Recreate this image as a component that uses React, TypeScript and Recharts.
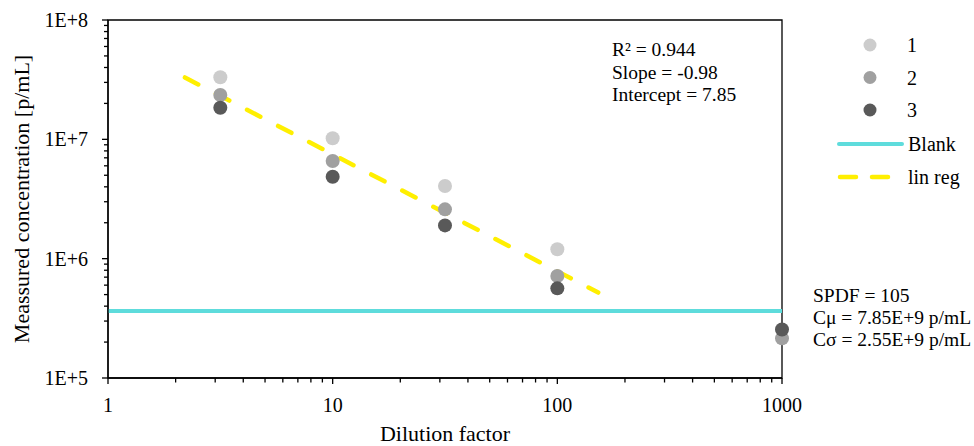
import React from 'react';
import { ScatterChart, Scatter, XAxis, YAxis, ReferenceLine, ReferenceArea } from 'recharts';

// ---- data ----
const dilution = [3.162, 10, 31.62, 100, 1000];
const series1 = [3.31e7, 1.02e7, 4.06e6, 1.2e6, null];
const series2 = [2.35e7, 6.58e6, 2.59e6, 7.15e5, 2.15e5];
const series3 = [1.84e7, 4.86e6, 1.9e6, 5.64e5, 2.55e5];
const blankLevel = 3.64e5;
const regX = [2.2, 152];
const regY = [3.3e7, 5.2e5];

const xMajor = [1, 10, 100, 1000];
const xTickLabels = ['1', '10', '100', '1000'];
const xTicks = [1, 2, 3, 4, 5, 6, 7, 8, 9, 10, 20, 30, 40, 50, 60, 70, 80, 90, 100, 200, 300, 400, 500, 600, 700, 800, 900, 1000];
const yMajor = [1e5, 1e6, 1e7, 1e8];
const yTickLabels = ['1E+5', '1E+6', '1E+7', '1E+8'];
const yTicks = [1e5, 2e5, 3e5, 4e5, 5e5, 6e5, 7e5, 8e5, 9e5, 1e6, 2e6, 3e6, 4e6, 5e6, 6e6, 7e6, 8e6, 9e6, 1e7, 2e7, 3e7, 4e7, 5e7, 6e7, 7e7, 8e7, 9e7, 1e8];

const seriesNames = ['1', '2', '3'];
const seriesColors = ['#CCCCCC', '#A0A0A0', '#595959'];
const statsLines = ['R\u00B2 = 0.944', 'Slope = -0.98', 'Intercept = 7.85'];
const spdfLines = ['SPDF = 105', 'C\u03BC = 7.85E+9 p/mL', 'C\u03C3 = 2.55E+9 p/mL'];

const BLANK_COLOR = '#5EDCDC';
const REG_COLOR = '#FFEF00';
const FONT = '"Liberation Serif", "Times New Roman", serif';

const toPoints = (vals: (number | null)[]) =>
  dilution.map((x, i) => ({ x, y: vals[i] })).filter((p) => p.y !== null);

const allSeries = [series1, series2, series3].map(toPoints);
const regData = regX.map((x, i) => ({ x, y: regY[i] }));

const XTick = (props: any) => {
  const { x, y, payload } = props;
  const idx = xMajor.indexOf(payload.value);
  const major = idx >= 0;
  return (
    <g>
      <line x1={x} x2={x} y1={y} y2={y + (major ? 6 : 4.5)} stroke="#000" strokeWidth={1.3} />
      {major && (
        <text x={x} y={y + 34} textAnchor="middle" fontFamily={FONT} fontSize={20} fill="#000">
          {xTickLabels[idx]}
        </text>
      )}
    </g>
  );
};

const YTick = (props: any) => {
  const { x, y, payload } = props;
  const idx = yMajor.indexOf(payload.value);
  const major = idx >= 0;
  return (
    <g>
      <line x1={x} x2={x - (major ? 6 : 4)} y1={y} y2={y} stroke="#000" strokeWidth={1.3} />
      {major && (
        <text x={x - 20} y={y + 7} textAnchor="end" fontFamily={FONT} fontSize={20} fill="#000">
          {yTickLabels[idx]}
        </text>
      )}
    </g>
  );
};

const dot = (color: string) => (props: any) => (
  <circle cx={props.cx} cy={props.cy} r={7} fill={color} />
);

export default function App() {
  return (
    <div style={{ position: 'absolute', left: 0, top: 0, width: 974, height: 446, background: '#fff' }}>
      <ScatterChart width={974} height={446} margin={{ top: 20, right: 192, bottom: 0, left: 0 }}>
        <XAxis
          dataKey="x"
          type="number"
          scale="log"
          domain={[1, 1000]}
          ticks={xTicks}
          interval={0}
          height={68}
          tickSize={0}
          tickMargin={0}
          tickLine={false}
          tick={<XTick />}
          axisLine={{ stroke: '#000', strokeWidth: 1.3 }}
        />
        <YAxis
          dataKey="y"
          type="number"
          scale="log"
          domain={[1e5, 1e8]}
          ticks={yTicks}
          interval={0}
          width={108}
          tickSize={0}
          tickMargin={0}
          tickLine={false}
          tick={<YTick />}
          axisLine={{ stroke: '#000', strokeWidth: 1.3 }}
        />
        <ReferenceArea x1={1} x2={1000} y1={1e5} y2={1e8} fill="none" stroke="#000" strokeWidth={1.3} />
        <ReferenceLine y={blankLevel} stroke={BLANK_COLOR} strokeWidth={4} />
        <Scatter
          name="lin reg"
          data={regData}
          isAnimationActive={false}
          line={{ stroke: REG_COLOR, strokeWidth: 4.5, strokeDasharray: '15 20', strokeLinecap: 'round' }}
          shape={() => <g />}
        />
        {allSeries.map((pts, i) => (
          <Scatter
            key={seriesNames[i]}
            name={seriesNames[i]}
            data={pts}
            fill={seriesColors[i]}
            isAnimationActive={false}
            shape={dot(seriesColors[i])}
          />
        ))}
      </ScatterChart>
      <svg
        width={974}
        height={446}
        style={{ position: 'absolute', left: 0, top: 0, pointerEvents: 'none' }}
        fontFamily={FONT}
      >
        {/* axis titles */}
        <text x={445} y={441} textAnchor="middle" fontSize={22} fill="#000">
          Dilution factor
        </text>
        <text x={29} y={199} textAnchor="middle" fontSize={22} fill="#000" transform="rotate(-90 29 199)">
          Meassured concentration [p/mL]
        </text>
        {/* stats */}
        {statsLines.map((s, i) => (
          <text key={s} x={612} y={56 + i * 22.5} fontSize={19.5} fill="#000">
            {s}
          </text>
        ))}
        {spdfLines.map((s, i) => (
          <text key={s} x={813} y={301.5 + i * 22} fontSize={19.5} fill="#000">
            {s}
          </text>
        ))}
        {/* legend */}
        {seriesNames.map((n, i) => (
          <g key={n}>
            <circle cx={870} cy={45 + i * 32.5} r={6.5} fill={seriesColors[i]} />
            <text x={907} y={52 + i * 32.5} fontSize={20} fill="#000">
              {n}
            </text>
          </g>
        ))}
        <line x1={839} x2={902} y1={144} y2={144} stroke={BLANK_COLOR} strokeWidth={4} strokeLinecap="round" />
        <text x={908} y={151} fontSize={20} fill="#000">
          Blank
        </text>
        <line x1={840} x2={892} y1={177} y2={177} stroke={REG_COLOR} strokeWidth={4.5} strokeDasharray="16 16" strokeLinecap="round" />
        <text x={908} y={184} fontSize={20} fill="#000">
          lin reg
        </text>
      </svg>
    </div>
  );
}
